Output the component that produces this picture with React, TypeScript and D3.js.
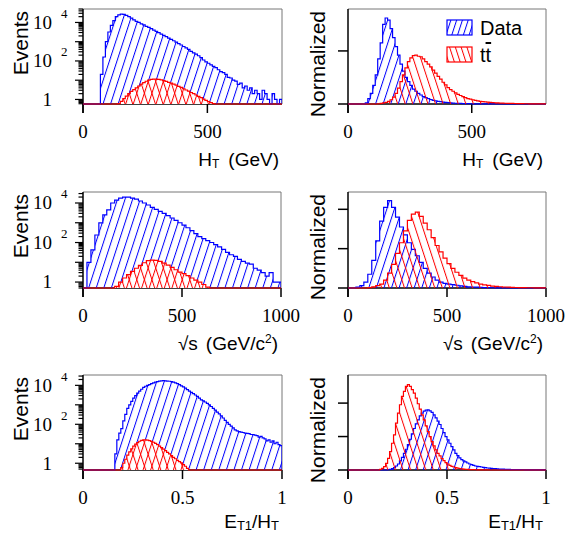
import React from 'react';
import * as d3 from 'd3';

// ---------------- DATA ----------------
// H_T (GeV), 10 GeV bins, 0..800
const htBinWidth = 10;
const htRange: [number, number] = [0, 800];
const htDataCounts = [
  0, 0, 0, 0, 0, 0, 0, 20, 160, 1000,
  3200, 7000, 12500, 20000, 25000, 27000, 26300, 23400, 20000, 16600,
  13500, 11500, 10000, 8500, 7400, 6300, 5500, 4800, 4000, 3470,
  2950, 2500, 2140, 1820, 1550, 1320, 1120, 955, 800, 676,
  562, 479, 398, 316, 263, 224, 186, 150, 112, 89,
  76, 63, 52, 45, 35, 28, 25, 20, 14, 13,
  10, 9, 6, 7, 4, 5, 3, 4, 2, 3,
  2, 1, 3, 2, 1, 0, 2, 1, 0, 1,
];
const htTtCounts = [
  0, 0, 0, 0, 0, 0, 0, 0, 0, 0,
  0, 0, 0, 0, 0.6, 0.8, 1.1, 1.5, 2.0, 2.6,
  3.2, 4.0, 5.0, 6.2, 7.5, 8.8, 10.0, 11.0, 11.5, 11.5,
  11.0, 10.3, 9.5, 8.6, 7.8, 7.0, 6.2, 5.5, 4.8, 4.2,
  3.6, 3.1, 2.7, 2.3, 2.0, 1.7, 1.45, 1.25, 1.05, 0.9,
  0.78, 0.68, 0.6, 0.55, 0.5, 0, 0, 0, 0, 0,
  0, 0, 0, 0, 0, 0, 0, 0, 0, 0,
  0, 0, 0, 0, 0, 0, 0, 0, 0, 0,
];
const htDataNorm = [
  0, 0, 0, 0, 0, 0, 0, 0.02, 0.1, 0.2,
  0.35, 0.55, 0.85, 1.15, 1.5, 1.62, 1.58, 1.42, 1.25, 1.08,
  0.92, 0.75, 0.62, 0.5, 0.42, 0.35, 0.28, 0.24, 0.2, 0.17,
  0.14, 0.12, 0.1, 0.085, 0.07, 0.06, 0.05, 0.045, 0.035, 0.03,
  0.025, 0.02, 0.017, 0.014, 0.012, 0.01, 0.008, 0.007, 0.006, 0.005,
  0.004, 0.004, 0.003, 0.003, 0.002, 0.002, 0.002, 0.001, 0.001, 0.001,
  0, 0, 0, 0, 0, 0, 0, 0, 0, 0,
  0, 0, 0, 0, 0, 0, 0, 0, 0, 0,
];
const htTtNorm = [
  0, 0, 0, 0, 0, 0, 0, 0, 0, 0,
  0, 0, 0.005, 0.01, 0.02, 0.03, 0.05, 0.08, 0.13, 0.2,
  0.3, 0.42, 0.55, 0.68, 0.8, 0.87, 0.91, 0.92, 0.9, 0.89,
  0.85, 0.8, 0.75, 0.7, 0.64, 0.58, 0.52, 0.47, 0.41, 0.36,
  0.31, 0.27, 0.24, 0.21, 0.18, 0.16, 0.14, 0.12, 0.1, 0.09,
  0.08, 0.07, 0.06, 0.05, 0.045, 0.04, 0.035, 0.03, 0.027, 0.024,
  0.02, 0.018, 0.016, 0.014, 0.012, 0.011, 0.01, 0.009, 0.008, 0.007,
  0.006, 0.005, 0.005, 0.004, 0.004, 0.003, 0.003, 0.003, 0.002, 0.002,
];

// sqrt(s) (GeV/c^2), 20 GeV bins, 0..1000
const sBinWidth = 20;
const sRange: [number, number] = [0, 1000];
const sDataCounts = [
  0, 10, 42, 240, 980, 2500, 4500, 10000, 14000, 17800,
  20000, 20000, 17800, 15800, 12600, 10000, 7900, 6000, 4800, 3800,
  2950, 2300, 1740, 1320, 1000, 760, 560, 400, 280, 200,
  158, 126, 100, 79, 60, 45, 32, 24, 20, 14,
  11, 9, 8, 5, 4, 3, 2, 3, 1, 1,
];
const sTtCounts = [
  0, 0, 0, 0, 0, 0, 0, 0, 0.6, 1.0,
  1.6, 2.4, 3.5, 5.0, 7.0, 9.5, 12, 13, 12.5, 11,
  9, 7.2, 5.5, 4.2, 3.2, 2.7, 2.1, 1.6, 1.25, 1.0,
  0.75, 0.55, 0, 0, 0, 0, 0, 0, 0, 0,
  0, 0, 0, 0, 0, 0, 0, 0, 0, 0,
];
const sDataNorm = [
  0, 0, 0.02, 0.06, 0.15, 0.35, 0.7, 1.2, 1.7, 2.05,
  2.22, 2.05, 1.8, 1.55, 1.35, 1.15, 0.98, 0.82, 0.65, 0.5,
  0.38, 0.28, 0.2, 0.15, 0.12, 0.1, 0.085, 0.07, 0.055, 0.04,
  0.03, 0.025, 0.02, 0.015, 0.01, 0.008, 0.006, 0.005, 0.004, 0.003,
  0.002, 0.002, 0.001, 0.001, 0.001, 0, 0, 0, 0, 0,
];
const sTtNorm = [
  0, 0, 0, 0, 0, 0.01, 0.03, 0.06, 0.1, 0.2,
  0.38, 0.6, 0.88, 1.15, 1.45, 1.72, 1.88, 1.93, 1.82, 1.65,
  1.48, 1.28, 1.08, 0.92, 0.76, 0.62, 0.5, 0.4, 0.32, 0.25,
  0.2, 0.16, 0.13, 0.1, 0.08, 0.065, 0.05, 0.04, 0.032, 0.025,
  0.02, 0.016, 0.013, 0.01, 0.008, 0.007, 0.006, 0.005, 0.004, 0.004,
];

// E_T1/H_T, 0.01 bins, 0..1
const eBinWidth = 0.01;
const eRange: [number, number] = [0, 1];
const eDataCounts = [
  0, 0, 0, 0, 0, 0, 0, 0, 0, 0,
  0, 0, 0, 0, 0, 0, 3, 16, 35, 60,
  150, 320, 650, 1000, 1500, 2200, 3000, 4000, 5000, 6300,
  7900, 9000, 10000, 11000, 12300, 13500, 14500, 15500, 16600, 17000,
  17400, 17000, 16600, 16200, 15500, 14500, 13500, 12300, 11000, 9500,
  8300, 7200, 6000, 5100, 4400, 3800, 3200, 2700, 2200, 1800,
  1600, 1400, 1200, 1000, 820, 660, 530, 420, 340, 270,
  210, 160, 125, 100, 80, 65, 52, 46, 42, 40,
  38, 35, 34, 33, 30, 30, 28, 26, 22, 24,
  20, 18, 14, 16, 12, 14, 10, 12, 9, 8,
];
const eTtCounts = [
  0, 0, 0, 0, 0, 0, 0, 0, 0, 0,
  0, 0, 0, 0, 0, 0, 0, 0, 0, 0.6,
  1.0, 1.6, 2.6, 3.8, 5.5, 7.5, 9.5, 11.5, 13.5, 15,
  16, 16, 15.5, 14.5, 13.2, 12, 10.5, 9, 7.6, 6.4,
  5.3, 4.4, 3.6, 3.0, 2.5, 2.0, 1.7, 1.4, 1.2, 1.05,
  0.85, 0.7, 0.55, 0, 0, 0, 0, 0, 0, 0,
  0, 0, 0, 0, 0, 0, 0, 0, 0, 0,
  0, 0, 0, 0, 0, 0, 0, 0, 0, 0,
  0, 0, 0, 0, 0, 0, 0, 0, 0, 0,
  0, 0, 0, 0, 0, 0, 0, 0, 0, 0,
];
const eDataNorm = [
  0, 0, 0, 0, 0, 0, 0, 0, 0, 0,
  0, 0, 0, 0, 0, 0, 0, 0, 0, 0,
  0.01, 0.02, 0.04, 0.07, 0.12, 0.18, 0.27, 0.38, 0.5, 0.62,
  0.76, 0.92, 1.08, 1.24, 1.38, 1.5, 1.62, 1.7, 1.76, 1.79,
  1.8, 1.77, 1.72, 1.65, 1.56, 1.46, 1.36, 1.24, 1.12, 1.0,
  0.9, 0.8, 0.7, 0.6, 0.5, 0.43, 0.36, 0.31, 0.27, 0.24,
  0.21, 0.18, 0.16, 0.14, 0.12, 0.11, 0.1, 0.09, 0.08, 0.07,
  0.06, 0.055, 0.05, 0.045, 0.04, 0.035, 0.03, 0.027, 0.024, 0.021,
  0.018, 0.016, 0.014, 0.012, 0.011, 0.01, 0.009, 0.008, 0.007, 0.006,
  0.005, 0.004, 0.004, 0.003, 0.003, 0.002, 0.002, 0.001, 0.001, 0.001,
];
const eTtNorm = [
  0, 0, 0, 0, 0, 0, 0, 0, 0, 0,
  0, 0, 0, 0, 0, 0, 0.02, 0.05, 0.1, 0.2,
  0.35, 0.55, 0.8, 1.05, 1.4, 1.7, 1.95, 2.2, 2.35, 2.5,
  2.55, 2.5, 2.4, 2.3, 2.15, 1.98, 1.82, 1.65, 1.5, 1.32,
  1.15, 1.0, 0.85, 0.72, 0.6, 0.5, 0.42, 0.34, 0.28, 0.22,
  0.18, 0.14, 0.11, 0.09, 0.07, 0.055, 0.045, 0.035, 0.028, 0.022,
  0.018, 0.014, 0.011, 0.009, 0.007, 0.005, 0.004, 0.003, 0.002, 0.002,
  0.001, 0, 0, 0, 0, 0, 0, 0, 0, 0,
  0, 0, 0, 0, 0, 0, 0, 0, 0, 0,
  0, 0, 0, 0, 0, 0, 0, 0, 0, 0,
];

// Tick values / labels
const htTicks = [0, 500];
const sTicks = [0, 500, 1000];
const eTicks = [0, 0.5, 1];
const logLabelValues = [1, 100, 10000];
const normTicksTop = [0, 1];
const normTicksMid = [0, 1, 2];
const normTicksBot = [0, 1, 2];
const legendLabels = ['Data', 't'];

// ---------------- STYLE ----------------
const SANS = "'Liberation Sans', Arial, Helvetica, sans-serif";
const SERIF = "'Liberation Serif', 'Times New Roman', serif";
const BLUE = '#0000ff';
const RED = '#ff0000';
const FRAME = '#777777';
const HATCH_W = 7.2; // perpendicular hatch spacing
const HATCH_ROT = 18;

type PanelSpec = {
  id: string;
  x: number; y: number; w: number; h: number;
  xDomain: [number, number];
  binW: number;
  blue: number[];
  red: number[];
  log: boolean;
  yDomain: [number, number];
  xTicks: number[];
  yTicks?: number[];
  xTitle: 'ht' | 's' | 'e';
  xTitleGap: number;
  yTitle: string;
};

const panels: PanelSpec[] = [
  { id: 'tl', x: 83, y: 9, w: 199, h: 95, xDomain: htRange, binW: htBinWidth, blue: htDataCounts, red: htTtCounts, log: true, yDomain: [0.58, 50000], xTicks: htTicks, xTitle: 'ht', xTitleGap: 62, yTitle: 'Events' },
  { id: 'tr', x: 348, y: 9, w: 198, h: 95, xDomain: htRange, binW: htBinWidth, blue: htDataNorm, red: htTtNorm, log: false, yDomain: [0, 1.79], xTicks: htTicks, yTicks: normTicksTop, xTitle: 'ht', xTitleGap: 62, yTitle: 'Normalized' },
  { id: 'ml', x: 83, y: 192, w: 198, h: 96, xDomain: sRange, binW: sBinWidth, blue: sDataCounts, red: sTtCounts, log: true, yDomain: [0.5, 36000], xTicks: sTicks, xTitle: 's', xTitleGap: 62, yTitle: 'Events' },
  { id: 'mr', x: 348, y: 192, w: 198, h: 96, xDomain: sRange, binW: sBinWidth, blue: sDataNorm, red: sTtNorm, log: false, yDomain: [0, 2.44], xTicks: sTicks, yTicks: normTicksMid, xTitle: 's', xTitleGap: 62, yTitle: 'Normalized' },
  { id: 'bl', x: 83, y: 375, w: 199, h: 95, xDomain: eRange, binW: eBinWidth, blue: eDataCounts, red: eTtCounts, log: true, yDomain: [0.45, 34000], xTicks: eTicks, xTitle: 'e', xTitleGap: 58, yTitle: 'Events' },
  { id: 'br', x: 348, y: 375, w: 198, h: 95, xDomain: eRange, binW: eBinWidth, blue: eDataNorm, red: eTtNorm, log: false, yDomain: [0, 2.84], xTicks: eTicks, yTicks: normTicksBot, xTitle: 'e', xTitleGap: 58, yTitle: 'Normalized' },
];

function XTitle({ kind, x, y }: { kind: 'ht' | 's' | 'e'; x: number; y: number }) {
  const common = { x, y, textAnchor: 'end' as const, fontFamily: SANS, fontSize: 19, fill: '#000' };
  if (kind === 'ht') {
    return (
      <text {...common}>
        <tspan>H</tspan>
        <tspan fontSize={12} dy={2}>T</tspan>
        <tspan dy={-2} dx={9}>(GeV)</tspan>
      </text>
    );
  }
  if (kind === 's') {
    return (
      <text {...common}>
        <tspan>{'\u221As'}</tspan>
        <tspan dx={8}>(GeV/c</tspan>
        <tspan fontSize={12} dy={-7}>2</tspan>
        <tspan dy={7}>)</tspan>
      </text>
    );
  }
  return (
    <text {...common}>
      <tspan>E</tspan>
      <tspan fontSize={13} dy={2}>T1</tspan>
      <tspan dy={-2}>/H</tspan>
      <tspan fontSize={13} dy={2}>T</tspan>
    </text>
  );
}

function fmtTick(v: number) {
  return String(v);
}

function Panel({ p }: { p: PanelSpec }) {
  const bottom = p.y + p.h;
  const xs = d3.scaleLinear().domain(p.xDomain).range([p.x, p.x + p.w]);
  const ys = p.log
    ? d3.scaleLog().domain(p.yDomain).range([bottom, p.y])
    : d3.scaleLinear().domain(p.yDomain).range([bottom, p.y]);
  const base = p.yDomain[0];
  const yv = (v: number) => ys(p.log ? Math.max(v, base) : v) as number;

  const stepPts = (vals: number[]): [number, number][] => {
    const x0 = p.xDomain[0];
    const out: [number, number][] = [[x0, base]];
    vals.forEach((v, i) => {
      out.push([x0 + i * p.binW, v]);
      out.push([x0 + (i + 1) * p.binW, v]);
    });
    out.push([x0 + vals.length * p.binW, base]);
    return out;
  };
  const line = d3.line<[number, number]>().x((d) => xs(d[0])).y((d) => yv(d[1]));
  const area = d3.area<[number, number]>().x((d) => xs(d[0])).y0(bottom).y1((d) => yv(d[1]));
  const bluePts = stepPts(p.blue);
  const redPts = stepPts(p.red);

  // y ticks
  const yTickEls: React.ReactNode[] = [];
  if (p.log) {
    const lo = Math.floor(Math.log10(p.yDomain[0]));
    const hi = Math.floor(Math.log10(p.yDomain[1]));
    for (let d = lo; d <= hi; d++) {
      for (let k = 1; k <= 9; k++) {
        const v = k * Math.pow(10, d);
        if (v < p.yDomain[0] || v > p.yDomain[1]) continue;
        const yy = ys(v) as number;
        const len = k === 1 ? 8 : 4.5;
        yTickEls.push(<line key={`t${d}${k}`} x1={p.x - len} x2={p.x} y1={yy} y2={yy} stroke="#000" strokeWidth={1.2} />);
      }
    }
    logLabelValues.forEach((v) => {
      const yy = ys(v) as number;
      const e = Math.round(Math.log10(v));
      if (e === 0) {
        yTickEls.push(
          <text key={`l${v}`} x={p.x - 31} y={yy} dy="0.33em" textAnchor="end" fontFamily={SERIF} fontSize={19}>1</text>
        );
      } else {
        yTickEls.push(
          <g key={`l${v}`}>
            <text x={p.x - 31} y={yy} dy="0.33em" textAnchor="end" fontFamily={SERIF} fontSize={19}>10</text>
            <text x={p.x - 22} y={yy - 4.5} textAnchor="start" fontFamily={SERIF} fontSize={13}>{e}</text>
          </g>
        );
      }
    });
  } else {
    (p.yTicks || []).forEach((v) => {
      const yy = ys(v) as number;
      yTickEls.push(<line key={`n${v}`} x1={p.x - 10} x2={p.x} y1={yy} y2={yy} stroke="#000" strokeWidth={1.5} />);
    });
  }

  const clipId = `clip-${p.id}`;
  const redArea = area(redPts) || '';

  return (
    <g>
      <defs>
        <clipPath id={clipId}>
          <rect x={p.x} y={p.y} width={p.w} height={p.h + 1} />
        </clipPath>
      </defs>
      {/* axes */}
      <line x1={p.x} x2={p.x + p.w} y1={p.y} y2={p.y} stroke={FRAME} strokeWidth={1} />
      <line x1={p.x + p.w} x2={p.x + p.w} y1={p.y} y2={bottom} stroke={FRAME} strokeWidth={1} />
      <line x1={p.x} x2={p.x + p.w} y1={bottom} y2={bottom} stroke="#000" strokeWidth={1.5} />
      <line x1={p.x} x2={p.x} y1={p.y} y2={bottom + 9} stroke="#000" strokeWidth={1.5} />
      {p.xTicks.map((t) => (
        <g key={`x${t}`}>
          <line x1={xs(t)} x2={xs(t)} y1={bottom} y2={bottom + 9} stroke="#000" strokeWidth={1.5} />
          <text x={xs(t)} y={bottom + 34} textAnchor="middle" fontFamily={SERIF} fontSize={19}>{fmtTick(t)}</text>
        </g>
      ))}
      {yTickEls}
      {/* histograms */}
      <g clipPath={`url(#${clipId})`}>
        <path d={area(bluePts) || ''} fill="url(#hatchBlue)" stroke="none" />
        <path d={line(bluePts) || ''} fill="none" stroke={BLUE} strokeWidth={1.2} />
        {p.log ? (
          <>
            <path d={redArea} fill="#fff" stroke="none" />
            <path d={redArea} fill="url(#hatchRedSlash)" stroke="none" />
            <path d={redArea} fill="url(#hatchRed)" stroke="none" />
          </>
        ) : (
          <path d={redArea} fill="url(#hatchRed)" stroke="none" />
        )}
        <path d={line(redPts) || ''} fill="none" stroke={RED} strokeWidth={1.2} />
      </g>
      {/* titles */}
      <XTitle kind={p.xTitle} x={p.x + p.w - 3} y={bottom + p.xTitleGap} />
      <text
        transform={`translate(${p.log ? p.x - 55 : p.x - 23},${p.y + 2}) rotate(-90)`}
        textAnchor="end"
        fontFamily={SANS}
        fontSize={21}
      >
        {p.yTitle}
      </text>
    </g>
  );
}

export default function App() {
  return (
    <svg
      width={579}
      height={535}
      viewBox="0 0 579 535"
      style={{ position: 'absolute', left: 0, top: 0, background: '#fff' }}
    >
      <defs>
        <pattern id="hatchBlue" patternUnits="userSpaceOnUse" width={HATCH_W} height={20} patternTransform={`rotate(${HATCH_ROT})`}>
          <line x1={0.5} y1={0} x2={0.5} y2={20} stroke={BLUE} strokeWidth={1} />
        </pattern>
        <pattern id="hatchRed" patternUnits="userSpaceOnUse" width={HATCH_W} height={20} patternTransform={`rotate(${-HATCH_ROT})`}>
          <line x1={0.5} y1={0} x2={0.5} y2={20} stroke={RED} strokeWidth={1} />
        </pattern>
        <pattern id="hatchRedSlash" patternUnits="userSpaceOnUse" width={HATCH_W} height={20} patternTransform={`rotate(${HATCH_ROT})`}>
          <line x1={0.5} y1={0} x2={0.5} y2={20} stroke={RED} strokeWidth={1} />
        </pattern>
        <pattern id="hatchBlueLeg" patternUnits="userSpaceOnUse" width={5.5} height={20} patternTransform={`rotate(${HATCH_ROT})`}>
          <line x1={0.5} y1={0} x2={0.5} y2={20} stroke={BLUE} strokeWidth={1} />
        </pattern>
        <pattern id="hatchRedLeg" patternUnits="userSpaceOnUse" width={5.5} height={20} patternTransform={`rotate(${-HATCH_ROT})`}>
          <line x1={0.5} y1={0} x2={0.5} y2={20} stroke={RED} strokeWidth={1} />
        </pattern>
      </defs>
      <rect x={0} y={0} width={579} height={535} fill="#fff" />
      {panels.map((p) => (
        <Panel key={p.id} p={p} />
      ))}
      {/* legend */}
      <g>
        <rect x={447} y={20} width={25} height={15} fill="url(#hatchBlueLeg)" stroke={BLUE} strokeWidth={1.2} />
        <text x={480} y={35} fontFamily={SANS} fontSize={20}>{legendLabels[0]}</text>
        <rect x={447} y={47} width={25} height={15} fill="url(#hatchRedLeg)" stroke={RED} strokeWidth={1.2} />
        <text x={480} y={62} fontFamily={SANS} fontSize={20}>
          <tspan>{legendLabels[1]}</tspan>
          <tspan style={{ textDecoration: 'overline' }}>{legendLabels[1]}</tspan>
        </text>
      </g>
    </svg>
  );
}
